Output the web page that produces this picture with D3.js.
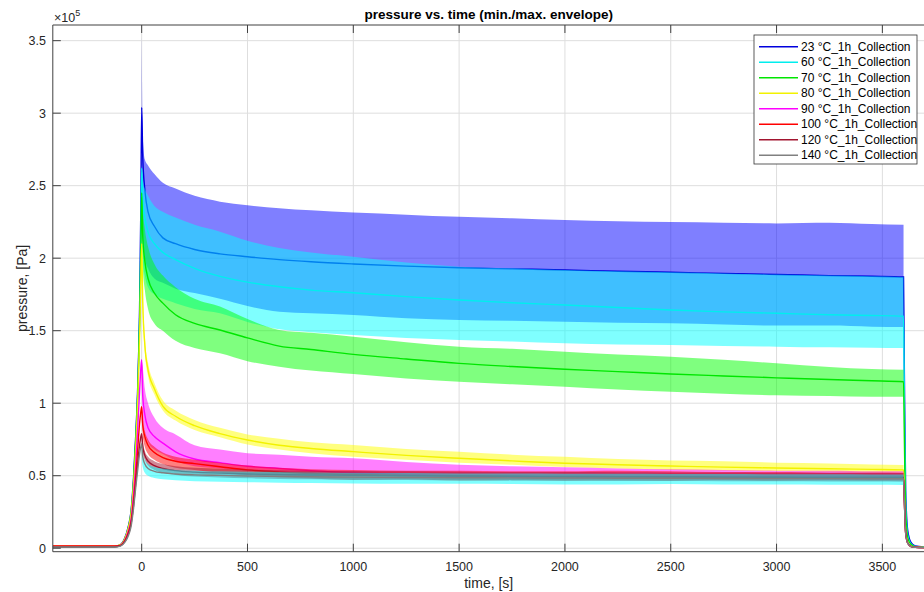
<!DOCTYPE html>
<html>
<head>
<meta charset="utf-8">
<script src="https://cdn.jsdelivr.net/npm/d3@7"></script>
<style>
  body { margin: 0; background: #fff; }
  text { font-family: "Liberation Sans", Arial, Helvetica, sans-serif; fill: #262626; }
</style>
</head>
<body>
<svg id="chart" width="924" height="592"></svg>
<script>
// values in units of 1e5 Pa
const labels = ["23 °C_1h_Collection", "60 °C_1h_Collection", "70 °C_1h_Collection", "80 °C_1h_Collection",
                "90 °C_1h_Collection", "100 °C_1h_Collection", "120 °C_1h_Collection", "140 °C_1h_Collection"];
const lineColors = ["#0000dd", "#00eeee", "#00e600", "#f2f200", "#ff00ff", "#ff0000", "#a2142f", "#808080"];
const bandColors = ["#0000ff", "#00ffff", "#00ff00", "#ffff00", "#ff00ff", "#ff0000", "#a2142f", "#00ffff"];

const xTicks = [0, 500, 1000, 1500, 2000, 2500, 3000, 3500];
const yTicks = [0, 0.5, 1, 1.5, 2, 2.5, 3, 3.5];

const riseTimes = [-420, -130, -100, -80, -65, -50, -38, -28, -18, -10, -4];
const bandTimes = [0, 5, 15, 30, 60, 100, 160, 250, 370, 500, 650, 800, 1000, 1250, 1500, 1750, 2000, 2250, 2500, 2750, 3000, 3250, 3450, 3600];
const fallTimes = [3604, 3610, 3620, 3635, 3655, 3700];

// 23 °C
const rise23 = [0.012, 0.012, 0.025, 0.07, 0.14, 0.26, 0.50, 0.78, 1.15, 1.65, 2.35];
const mean23 = [3.04, 2.70, 2.47, 2.32, 2.22, 2.14, 2.10, 2.06, 2.03, 2.01, 1.99, 1.975, 1.96, 1.945, 1.934, 1.926, 1.919, 1.91, 1.903, 1.895, 1.888, 1.88, 1.875, 1.87];
const fall23 = [1.20, 0.40, 0.12, 0.04, 0.015, 0.008];
const max23 = [3.55, 2.85, 2.68, 2.64, 2.58, 2.52, 2.48, 2.43, 2.39, 2.365, 2.345, 2.33, 2.315, 2.30, 2.285, 2.275, 2.263, 2.255, 2.25, 2.245, 2.24, 2.245, 2.235, 2.23];
const min23 = [2.50, 2.15, 2.00, 1.93, 1.86, 1.83, 1.79, 1.76, 1.72, 1.67, 1.63, 1.62, 1.608, 1.585, 1.574, 1.568, 1.562, 1.555, 1.551, 1.543, 1.535, 1.535, 1.528, 1.525];

// 60 °C
const rise60 = [0.008, 0.008, 0.02, 0.06, 0.12, 0.23, 0.45, 0.72, 1.08, 1.55, 2.15];
const mean60 = [2.62, 2.40, 2.28, 2.18, 2.10, 2.04, 1.99, 1.93, 1.875, 1.835, 1.803, 1.78, 1.762, 1.735, 1.712, 1.693, 1.677, 1.66, 1.643, 1.63, 1.62, 1.61, 1.605, 1.60];
const fall60 = [1.00, 0.32, 0.09, 0.03, 0.012, 0.006];
const max60 = [2.65, 2.55, 2.48, 2.43, 2.36, 2.32, 2.28, 2.23, 2.183, 2.12, 2.07, 2.04, 2.01, 1.97, 1.941, 1.93, 1.918, 1.91, 1.903, 1.895, 1.888, 1.88, 1.875, 1.87];
const min60 = [2.35, 2.00, 1.88, 1.80, 1.75, 1.72, 1.69, 1.65, 1.62, 1.56, 1.51, 1.49, 1.47, 1.45, 1.436, 1.425, 1.413, 1.405, 1.401, 1.395, 1.39, 1.385, 1.382, 1.38];

// 70 °C
const rise70 = [0.01, 0.01, 0.022, 0.065, 0.13, 0.25, 0.47, 0.75, 1.10, 1.55, 2.05];
const mean70 = [2.45, 2.15, 1.98, 1.86, 1.76, 1.69, 1.61, 1.55, 1.505, 1.45, 1.394, 1.37, 1.337, 1.305, 1.275, 1.253, 1.234, 1.218, 1.201, 1.188, 1.175, 1.163, 1.155, 1.148];
const fall70 = [0.75, 0.25, 0.07, 0.025, 0.01, 0.005];
const max70 = [2.50, 2.35, 2.20, 2.08, 1.96, 1.88, 1.80, 1.72, 1.666, 1.58, 1.505, 1.485, 1.459, 1.42, 1.39, 1.375, 1.355, 1.335, 1.321, 1.30, 1.275, 1.25, 1.235, 1.23];
const min70 = [2.35, 1.95, 1.78, 1.65, 1.55, 1.50, 1.43, 1.38, 1.344, 1.29, 1.252, 1.225, 1.201, 1.17, 1.148, 1.13, 1.114, 1.095, 1.079, 1.065, 1.055, 1.05, 1.045, 1.045];

// 80 °C
const rise80 = [0.015, 0.015, 0.025, 0.065, 0.13, 0.24, 0.45, 0.70, 1.05, 1.45, 1.85];
const mean80 = [2.10, 1.70, 1.40, 1.23, 1.10, 0.98, 0.91, 0.845, 0.79, 0.746, 0.71, 0.688, 0.666, 0.64, 0.62, 0.602, 0.586, 0.576, 0.567, 0.559, 0.553, 0.548, 0.544, 0.54];
const fall80 = [0.36, 0.12, 0.04, 0.015, 0.008, 0.005];
const max80 = [2.15, 1.80, 1.46, 1.28, 1.14, 1.02, 0.95, 0.885, 0.83, 0.785, 0.755, 0.73, 0.712, 0.685, 0.665, 0.645, 0.63, 0.615, 0.605, 0.60, 0.59, 0.585, 0.578, 0.574];
const min80 = [2.00, 1.65, 1.35, 1.19, 1.06, 0.95, 0.88, 0.815, 0.765, 0.715, 0.68, 0.655, 0.631, 0.61, 0.59, 0.575, 0.56, 0.55, 0.54, 0.535, 0.53, 0.525, 0.52, 0.52];

// 90 °C
const rise90 = [0.012, 0.012, 0.02, 0.055, 0.11, 0.20, 0.38, 0.58, 0.85, 1.08, 1.24];
const mean90 = [1.30, 1.05, 0.92, 0.83, 0.77, 0.725, 0.665, 0.615, 0.59, 0.565, 0.55, 0.535, 0.52, 0.508, 0.50, 0.495, 0.492, 0.49, 0.488, 0.487, 0.486, 0.485, 0.485, 0.484];
const fall90 = [0.33, 0.11, 0.035, 0.013, 0.007, 0.004];
const max90 = [1.30, 1.25, 1.10, 1.00, 0.90, 0.83, 0.785, 0.71, 0.68, 0.655, 0.645, 0.63, 0.62, 0.595, 0.575, 0.565, 0.558, 0.55, 0.544, 0.54, 0.535, 0.535, 0.53, 0.53];
const min90 = [1.20, 0.90, 0.80, 0.73, 0.68, 0.65, 0.605, 0.565, 0.55, 0.535, 0.525, 0.515, 0.505, 0.495, 0.49, 0.485, 0.483, 0.48, 0.478, 0.476, 0.475, 0.474, 0.473, 0.472];

// 100 °C
const rise100 = [0.015, 0.015, 0.02, 0.05, 0.10, 0.18, 0.33, 0.50, 0.70, 0.86, 0.94];
const mean100 = [0.976, 0.85, 0.77, 0.71, 0.66, 0.625, 0.60, 0.583, 0.562, 0.54, 0.525, 0.515, 0.508, 0.502, 0.498, 0.495, 0.492, 0.49, 0.488, 0.487, 0.486, 0.485, 0.484, 0.483];
const fall100 = [0.32, 0.105, 0.034, 0.012, 0.007, 0.004];
const max100 = [0.98, 0.90, 0.81, 0.75, 0.70, 0.66, 0.63, 0.61, 0.59, 0.57, 0.555, 0.545, 0.54, 0.535, 0.535, 0.53, 0.53, 0.535, 0.53, 0.525, 0.525, 0.52, 0.52, 0.52];
const min100 = [0.90, 0.78, 0.70, 0.65, 0.61, 0.58, 0.555, 0.54, 0.52, 0.505, 0.49, 0.48, 0.47, 0.475, 0.465, 0.47, 0.465, 0.468, 0.465, 0.47, 0.465, 0.468, 0.465, 0.465];

// 120 °C
const rise120 = [0.01, 0.01, 0.018, 0.045, 0.09, 0.17, 0.30, 0.45, 0.60, 0.71, 0.77];
const mean120 = [0.79, 0.70, 0.64, 0.60, 0.57, 0.55, 0.535, 0.525, 0.518, 0.512, 0.508, 0.505, 0.502, 0.50, 0.498, 0.496, 0.495, 0.494, 0.493, 0.492, 0.491, 0.49, 0.49, 0.489];
const fall120 = [0.32, 0.105, 0.034, 0.012, 0.007, 0.004];
const max120 = [0.80, 0.74, 0.67, 0.63, 0.60, 0.58, 0.565, 0.555, 0.548, 0.542, 0.538, 0.535, 0.532, 0.53, 0.528, 0.526, 0.525, 0.524, 0.523, 0.522, 0.521, 0.52, 0.52, 0.519];
const min120 = [0.75, 0.66, 0.61, 0.57, 0.54, 0.52, 0.505, 0.495, 0.488, 0.482, 0.478, 0.475, 0.472, 0.47, 0.468, 0.466, 0.465, 0.464, 0.463, 0.462, 0.461, 0.46, 0.46, 0.459];

// 140 °C
const rise140 = [0.008, 0.008, 0.015, 0.04, 0.08, 0.15, 0.28, 0.42, 0.55, 0.65, 0.70];
const mean140 = [0.72, 0.63, 0.58, 0.55, 0.53, 0.52, 0.512, 0.506, 0.502, 0.498, 0.495, 0.493, 0.49, 0.488, 0.486, 0.485, 0.484, 0.483, 0.482, 0.481, 0.48, 0.48, 0.479, 0.479];
const fall140 = [0.31, 0.10, 0.033, 0.012, 0.007, 0.004];
const max140 = [0.74, 0.66, 0.61, 0.58, 0.56, 0.55, 0.54, 0.535, 0.53, 0.527, 0.525, 0.522, 0.52, 0.518, 0.516, 0.515, 0.514, 0.513, 0.512, 0.511, 0.51, 0.51, 0.509, 0.509];
const min140 = [0.62, 0.56, 0.52, 0.50, 0.485, 0.475, 0.468, 0.462, 0.458, 0.455, 0.452, 0.45, 0.447, 0.445, 0.444, 0.443, 0.44, 0.44, 0.442, 0.44, 0.44, 0.438, 0.437, 0.436];

const rises = [rise23, rise60, rise70, rise80, rise90, rise100, rise120, rise140];
const means = [mean23, mean60, mean70, mean80, mean90, mean100, mean120, mean140];
const falls = [fall23, fall60, fall70, fall80, fall90, fall100, fall120, fall140];
const maxs = [max23, max60, max70, max80, max90, max100, max120, max140];
const mins = [min23, min60, min70, min80, min90, min100, min120, min140];

const lineTimes = riseTimes.concat(bandTimes, fallTimes);

const pLeft = 52.8, pRight = 924.7, pTop = 25, pBottom = 551.7;

const x = d3.scaleLinear().domain([-420, 3700]).range([pLeft, pRight]);
const y = d3.scaleLinear().domain([-0.024, 3.608]).range([pBottom, pTop]);

const svg = d3.select("#chart");

svg.append("defs").append("clipPath").attr("id", "plotclip")
  .append("rect").attr("x", pLeft).attr("y", pTop).attr("width", pRight - pLeft).attr("height", pBottom - pTop);

// grid
const grid = svg.append("g").attr("stroke", "#dedede").attr("stroke-width", 1);
grid.selectAll(".gx").data(xTicks).join("line").attr("class", "gx")
  .attr("x1", d => x(d)).attr("x2", d => x(d)).attr("y1", pTop).attr("y2", pBottom);
grid.selectAll(".gy").data(yTicks).join("line").attr("class", "gy")
  .attr("x1", pLeft).attr("x2", pRight).attr("y1", d => y(d)).attr("y2", d => y(d));

// data
const plot = svg.append("g").attr("clip-path", "url(#plotclip)");

const area = d3.area()
  .x(d => x(d.t)).y0(d => y(d.lo)).y1(d => y(d.hi)).curve(d3.curveMonotoneX);
const line = d3.line()
  .x(d => x(d.t)).y(d => y(d.v)).curve(d3.curveMonotoneX);

labels.forEach((name, i) => {
  const band = bandTimes.map((t, j) => ({ t: t, lo: mins[i][j], hi: maxs[i][j] }));
  const vals = rises[i].concat(means[i], falls[i]);
  const pts = lineTimes.map((t, j) => ({ t: t, v: vals[j] }));
  plot.append("path").datum(band)
    .attr("d", area)
    .attr("fill", bandColors[i])
    .attr("fill-opacity", 0.5);
  plot.append("path").datum(pts)
    .attr("d", line)
    .attr("fill", "none")
    .attr("stroke", lineColors[i])
    .attr("stroke-width", 1.4);
});

// axes box and ticks
const ax = svg.append("g").attr("stroke", "#404040").attr("stroke-width", 1).attr("fill", "none");
ax.append("line").attr("x1", pLeft).attr("x2", pRight).attr("y1", pBottom).attr("y2", pBottom);
ax.append("line").attr("x1", pLeft).attr("x2", pRight).attr("y1", pTop).attr("y2", pTop);
ax.append("line").attr("x1", pLeft).attr("x2", pLeft).attr("y1", pTop).attr("y2", pBottom);
ax.selectAll(".tb").data(xTicks).join("line").attr("class", "tb")
  .attr("x1", d => x(d)).attr("x2", d => x(d)).attr("y1", pBottom).attr("y2", pBottom - 8);
ax.selectAll(".tt").data(xTicks).join("line").attr("class", "tt")
  .attr("x1", d => x(d)).attr("x2", d => x(d)).attr("y1", pTop).attr("y2", pTop + 8);
ax.selectAll(".tl").data(yTicks).join("line").attr("class", "tl")
  .attr("x1", pLeft).attr("x2", pLeft + 8).attr("y1", d => y(d)).attr("y2", d => y(d));

svg.append("g").selectAll("text").data(xTicks).join("text")
  .attr("x", d => x(d)).attr("y", 571)
  .attr("text-anchor", "middle")
  .attr("font-size", 12.5)
  .text(d => d);

svg.append("g").selectAll("text").data(yTicks).join("text")
  .attr("x", 46).attr("y", d => y(d))
  .attr("dy", "0.35em")
  .attr("text-anchor", "end")
  .attr("font-size", 12.5)
  .text(d => d);

// exponent
const ex = svg.append("text").attr("x", 54).attr("y", 22).attr("font-size", 12.5);
ex.append("tspan").text("×10");
ex.append("tspan").attr("dy", -6).attr("font-size", 9).text("5");

// title and labels
svg.append("text")
  .attr("x", (pLeft + pRight) / 2).attr("y", 18.5)
  .attr("text-anchor", "middle")
  .attr("font-size", 13.5).attr("font-weight", "bold")
  .style("fill", "#000")
  .text("pressure vs. time (min./max. envelope)");

svg.append("text")
  .attr("x", (pLeft + pRight) / 2).attr("y", 588)
  .attr("text-anchor", "middle")
  .attr("font-size", 14)
  .text("time, [s]");

svg.append("text")
  .attr("transform", `translate(27,${(pTop + pBottom) / 2}) rotate(-90)`)
  .attr("text-anchor", "middle")
  .attr("font-size", 14)
  .text("pressure, [Pa]");

// legend
const lg = svg.append("g");
lg.append("rect")
  .attr("x", 754).attr("y", 35).attr("width", 163).attr("height", 129)
  .attr("fill", "#fff").attr("stroke", "#333").attr("stroke-width", 0.8);
const row = lg.selectAll("g").data(labels).join("g")
  .attr("transform", (d, i) => `translate(0,${46.7 + i * 15.5})`);
row.append("line")
  .attr("x1", 759).attr("x2", 798)
  .attr("stroke", (d, i) => lineColors[i]).attr("stroke-width", 1.5);
row.append("text")
  .attr("x", 801).attr("dy", "0.35em")
  .attr("font-size", 12)
  .style("fill", "#000")
  .text(d => d);
</script>
</body>
</html>
